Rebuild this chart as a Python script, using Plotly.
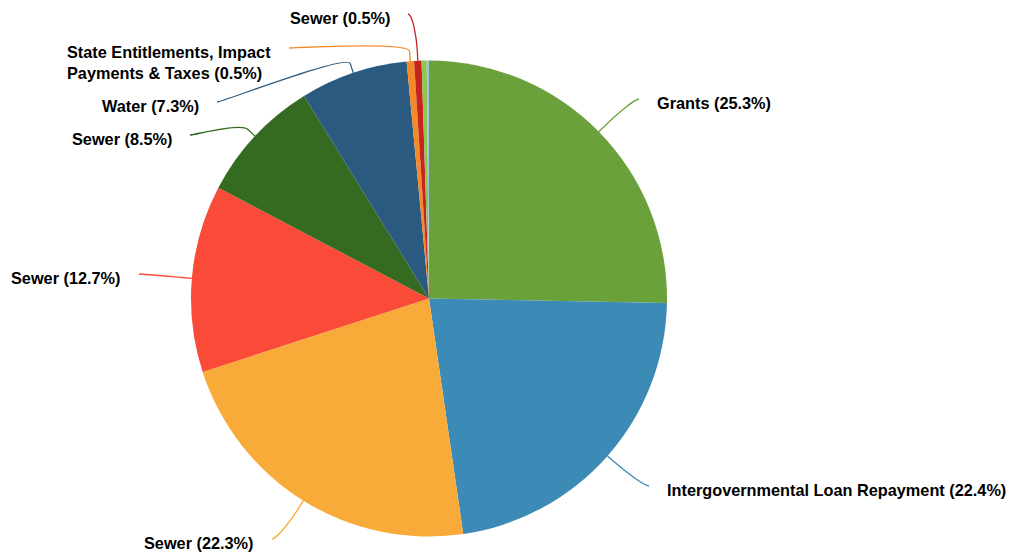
import math
import textwrap
import plotly.graph_objects as go

# Revenue sources, clockwise from 12 o'clock
categories = [
    "Grants",
    "Intergovernmental Loan Repayment",
    "Sewer",
    "Sewer",
    "Sewer",
    "Water",
    "State Entitlements, Impact Payments & Taxes",
    "Sewer",
    "Other",
    "Other",
]
shares = [25.3, 22.4, 22.3, 12.7, 8.5, 7.3, 0.5, 0.5, 0.35, 0.15]
show_label = [True, True, True, True, True, True, True, True, False, False]

colors = [
    "#6aa13a", "#3c8ab6", "#f8ab38", "#f94b38", "#356a21",
    "#2b5a80", "#f4892a", "#c4251f", "#8fc550", "#9cc3e0",
]

# Canvas and pie geometry (pixels)
W, H = 1017, 555
CX, CY, R = 429, 298.5, 238

# Where each label's connector ends (pixels); None for unlabeled slices
label_end_px = [
    (639, 99), (649, 486), (272, 539), (139, 274),
    (190, 135), (217, 102), (289, 48), (408, 14), None, None,
]
TEXT_GAP = 16
BREAK = 10
FONT = dict(family="Liberation Sans, Arial, Helvetica, sans-serif", size=16.3,
            color="#000000", weight="bold")


def paper(px, py):
    return px / W, 1 - py / H


# Slice keys must be unique, otherwise the repeated "Sewer" entries get merged
slice_ids = [f"{i}:{name}" for i, name in enumerate(categories)]

fig = go.Figure(go.Pie(
    labels=slice_ids,
    values=shares,
    hovertext=categories,
    sort=False,
    direction="clockwise",
    rotation=0,
    marker=dict(colors=colors, line=dict(width=0)),
    textinfo="none",
    hoverinfo="text+percent",
    showlegend=False,
    domain=dict(x=[(CX - R) / W, (CX + R) / W],
                y=[1 - (CY + R) / H, 1 - (CY - R) / H]),
))

total = sum(shares)
cum = 0.0
shapes, annotations = [], []
for name, v, col, show, end in zip(categories, shares, colors, show_label, label_end_px):
    theta = 2 * math.pi * (cum + v / 2) / total
    cum += v
    if not show or end is None:
        continue
    ux, uy = math.sin(theta), -math.cos(theta)
    # slice edge -> short radial break -> soft curve to the label
    p = (CX + R * ux, CY + R * uy)
    b = (CX + (R + BREAK) * ux, CY + (R + BREAK) * uy)
    ex, ey = end
    right = ex > CX
    c1 = (b[0] + ux * BREAK, b[1] + uy * BREAK)
    c2 = (ex - 5 if right else ex + 5, ey)
    pts = [paper(*q) for q in (p, b, c1, c2, (ex, ey))]
    path = "M {0[0]},{0[1]} L {1[0]},{1[1]} C {2[0]},{2[1]} {3[0]},{3[1]} {4[0]},{4[1]}".format(*pts)
    shapes.append(dict(type="path", path=path, xref="paper", yref="paper",
                       line=dict(color=col, width=1.3)))

    pct = v / total * 100
    text = f"{name} ({pct:.1f}%)"
    if len(text) > 45:
        text = "<br>".join(textwrap.wrap(text, 26))
    nlines = text.count("<br>") + 1
    tx = ex + TEXT_GAP if right else ex - TEXT_GAP
    ty = ey + 4 + (nlines - 1) * 10.5
    ax_, ay_ = paper(tx, ty)
    annotations.append(dict(
        x=ax_, y=ay_, xref="paper", yref="paper", text=text, showarrow=False,
        xanchor="left" if right else "right", yanchor="middle", align="left",
        font=FONT,
    ))

fig.update_layout(
    width=W, height=H,
    margin=dict(l=0, r=0, t=0, b=0),
    paper_bgcolor="#ffffff",
    plot_bgcolor="#ffffff",
    shapes=shapes,
    annotations=annotations,
)

fig.write_html("out.html")
